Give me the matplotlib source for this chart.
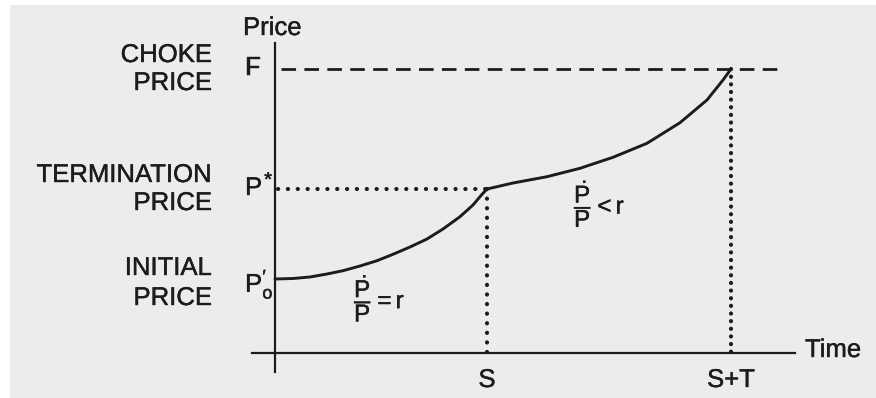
import numpy as np
import matplotlib.pyplot as plt
import matplotlib.patheffects as pe
from matplotlib.patches import Rectangle

plt.rcParams["font.family"] = ["Liberation Sans", "DejaVu Sans"]
plt.rcParams["mathtext.fontset"] = "custom"
plt.rcParams["mathtext.rm"] = "Liberation Sans"
plt.rcParams["mathtext.it"] = "Liberation Sans"
plt.rcParams["mathtext.bf"] = "Liberation Sans:bold"
plt.rcParams["lines.scale_dashes"] = False

INK = "#1c1c1c"
PAPER = "#ececec"

## price levels and time marks
P0 = 0.74      # initial price
PSTAR = 1.64   # termination price
F = 2.84       # choke price
S = 2.12
ST = 4.56

## price path: P'/P = r up to S, then P'/P < r
t1 = [0.00, 0.18, 0.35, 0.52, 0.68, 0.85, 1.02, 1.18, 1.35, 1.52, 1.68, 1.85, 1.98, 2.06, 2.12]
p1 = [0.74, 0.745, 0.76, 0.79, 0.823, 0.87, 0.923, 0.987, 1.06, 1.14, 1.24, 1.363, 1.48, 1.575, 1.64]
t2 = [2.12, 2.38, 2.72, 3.05, 3.38, 3.72, 4.05, 4.32, 4.48, 4.56]
p2 = [1.64, 1.70, 1.763, 1.847, 1.957, 2.097, 2.303, 2.53, 2.73, 2.84]

fig = plt.figure(figsize=(8.76, 3.98), dpi=100, facecolor="white")
fig.patches.append(Rectangle((10/876, 0), 1, (398-5)/398, transform=fig.transFigure,
                             facecolor=PAPER, edgecolor="none", zorder=-10))

ax = fig.add_axes([252/876, (398-372)/398, (795-252)/876, (372-43)/398])
ax.set_xlim(-0.23, 5.20)
ax.set_ylim(-0.19, 3.10)
ax.axis("off")

# axes
ax.plot([-0.23, 5.20], [0, 0], color=INK, lw=1.6, clip_on=False)
ax.plot([0, 0], [-0.19, 3.10], color=INK, lw=1.6, clip_on=False)

# choke price dashed line
ax.plot([0.06, 5.03], [F, F], color=INK, lw=2.0, linestyle=(0, (10.5, 6)), clip_on=False)

# dotted guides
ax.plot([0.03, S], [PSTAR, PSTAR], color=INK, lw=3.0, linestyle=(0, (0.1, 7.0)), dash_capstyle="round")
ax.plot([S, S], [PSTAR, 0], color=INK, lw=3.0, linestyle=(0, (0.1, 6.8)), dash_capstyle="round")
ax.plot([ST, ST], [F, 0], color=INK, lw=3.0, linestyle=(0, (0.1, 5.4)), dash_capstyle="round")

# price path
ax.plot(t1, p1, color=INK, lw=2.1, solid_capstyle="round", solid_joinstyle="round")
ax.plot(t2, p2, color=INK, lw=2.1, solid_capstyle="round", solid_joinstyle="round")

fs = 18.5
thick = [pe.withStroke(linewidth=0.3, foreground=INK)]
kw = dict(color=INK, fontsize=fs, va="baseline", path_effects=thick)

ax.text(-0.32, 3.18, "Price", ha="left", **kw)
ax.text(5.30, -0.04, "Time", ha="left", **kw)

ax.text(-0.63, 2.91, "CHOKE", ha="right", **kw)
ax.text(-0.63, 2.63, "PRICE", ha="right", **kw)
ax.text(-0.63, 1.71, "TERMINATION", ha="right", **kw)
ax.text(-0.63, 1.43, "PRICE", ha="right", **kw)
ax.text(-0.63, 0.78, "INITIAL", ha="right", **kw)
ax.text(-0.63, 0.48, "PRICE", ha="right", **kw)

ax.text(-0.30, 2.78, "F", ha="left", **kw)
ax.text(-0.30, 1.58, "P", ha="left", **kw)
ax.text(-0.115, 1.68, "*", ha="left", color=INK, fontsize=15, fontweight="bold", va="baseline")
ax.text(-0.30, 0.61, r"P$_{\mathrm{o}}^{\prime}$", ha="left", **kw)

ax.text(S, -0.34, "S", ha="center", **kw)
ax.text(ST, -0.34, "S+T", ha="center", **kw)

ax.text(0.79, 0.54, r"$\dfrac{\dot{P}}{P}=r$", ha="left", va="center", color=INK,
        fontsize=17.5, path_effects=thick)
ax.text(2.99, 1.485, r"$\dfrac{\dot{P}}{P}<r$", ha="left", va="center", color=INK,
        fontsize=17.5, path_effects=thick)

plt.savefig("out.png", dpi=100, facecolor=fig.get_facecolor())
